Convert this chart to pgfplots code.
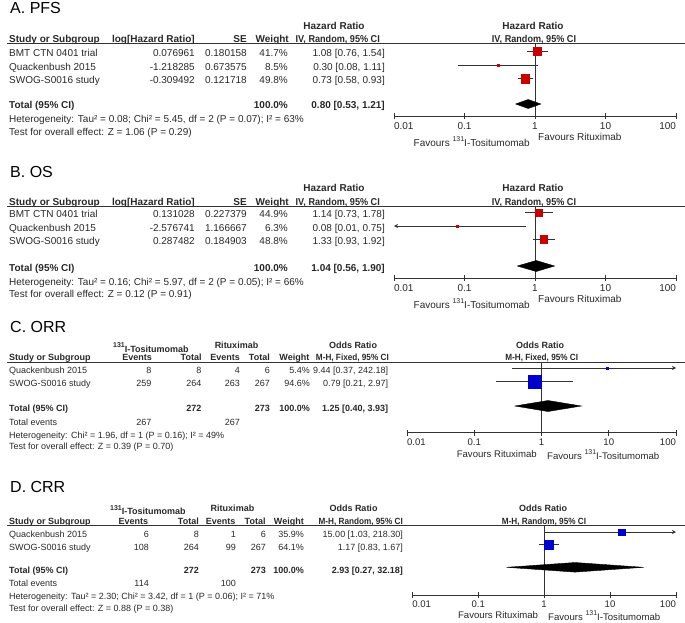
\documentclass[border=0pt]{standalone}
\usepackage{fontspec}
\setmainfont{Liberation Sans}
\usepackage{pgfplots}
\pgfplotsset{compat=1.18}
\usetikzlibrary{arrows.meta}
\definecolor{hrred}{RGB}{200,0,0}
\definecolor{orblue}{RGB}{0,0,204}
\definecolor{txt}{RGB}{40,40,40}
\definecolor{ln}{RGB}{50,50,50}
\newcommand\fs{\fontsize{10}{12}\selectfont}
\newcommand\fss{\fontsize{9}{11}\selectfont}
\newcommand\fsf{\fontsize{9.6}{11}\selectfont}
\newcommand\sups[1]{\raisebox{4.5pt}{\fontsize{7}{8}\selectfont #1}}
\newcommand\nar[1]{\scalebox{0.91}[1]{#1}}
\pgfplotsset{
 myforestaxis/.style={
   scale only axis, clip=false, xmin=0.01, xmax=100,
   axis y line=none, axis x line*=bottom,
   axis line style={ln, line width=0.8pt},
   xtick={0.01,0.1,1,10,100},
   xticklabels={{\makebox[0pt][l]{0.01}},0.1,1,10,{\makebox[0pt][r]{100}}},
   xminorticks=false,
   xtick align=center, major tick length=6pt,
   tick style={ln, line width=0.8pt},
   xticklabel style={font=\fs, text=txt, inner sep=0pt, anchor=base, yshift=-10.5pt},
 },
}
\tikzset{
 ciline/.style={ln, line width=0.8pt},
 ciright/.style={ln, line width=0.8pt, -{Stealth[length=4pt,width=4pt]}},
 cileft/.style={ln, line width=0.8pt, {Stealth[length=4pt,width=4pt]}-},
 diam/.style={fill=black, draw=black},
 refline/.style={ln, line width=0.8pt},
}
\begin{document}
\begin{tikzpicture}[
  L/.style={anchor=base west, inner sep=0pt, font=\fs, text=txt},
  R/.style={anchor=base east, inner sep=0pt, font=\fs, text=txt},
  C/.style={anchor=base, inner sep=0pt, font=\fs, text=txt},
  B/.style={font=\fs\bfseries},
  S/.style={font=\fss},
  SB/.style={font=\fss\bfseries},
  F/.style={font=\fsf},
  T/.style={anchor=base west, inner sep=0pt, font=\fontsize{16}{19}\selectfont, text=black},
  rule/.style={ln, line width=0.8pt}]
\useasboundingbox (0pt,0pt) rectangle (685pt,-622pt);

% ================= A. PFS =================
\node[T] at (10pt,-13.4pt) {A. PFS};
\node[C,B] at (334pt,-29.3pt) {Hazard Ratio};
\node[C,B] at (533pt,-29.3pt) {Hazard Ratio};
\node[L,B] at (9pt,-42.9pt) {Study or Subgroup};
\node[R,B] at (195pt,-42.9pt) {log[Hazard Ratio]};
\node[R,B] at (247pt,-42.9pt) {SE};
\node[R,B] at (289pt,-42.9pt) {Weight};
\node[R,B] at (380pt,-42.9pt) {\nar{IV, Random, 95\% CI}};
\node[C,B] at (534pt,-42.9pt) {\nar{IV, Random, 95\% CI}};
\draw[rule] (7pt,-43.7pt) -- (685pt,-43.7pt);
\node[L] at (9pt,-56.5pt) {BMT CTN 0401 trial};
\node[R] at (195pt,-56.5pt) {0.076961};
\node[R] at (247pt,-56.5pt) {0.180158};
\node[R] at (288pt,-56.5pt) {41.7\%};
\node[R] at (385pt,-56.5pt) {1.08 [0.76, 1.54]};
\node[L] at (9pt,-70pt) {Quackenbush 2015};
\node[R] at (195pt,-70pt) {-1.218285};
\node[R] at (247pt,-70pt) {0.673575};
\node[R] at (288pt,-70pt) {8.5\%};
\node[R] at (385pt,-70pt) {0.30 [0.08, 1.11]};
\node[L] at (9pt,-83.5pt) {SWOG-S0016 study};
\node[R] at (195pt,-83.5pt) {-0.309492};
\node[R] at (247pt,-83.5pt) {0.121718};
\node[R] at (288pt,-83.5pt) {49.8\%};
\node[R] at (385pt,-83.5pt) {0.73 [0.58, 0.93]};
\node[L,B] at (9pt,-108.6pt) {Total (95\% CI)};
\node[R,B] at (288pt,-108.6pt) {100.0\%};
\node[R,B] at (385pt,-108.6pt) {0.80 [0.53, 1.21]};
\node[L] at (9pt,-122.6pt) {Heterogeneity: Tau² = 0.08; Chi² = 5.45, df = 2 (P = 0.07); I² = 63\%};
\node[L] at (9pt,-135.3pt) {Test for overall effect: Z = 1.06 (P = 0.29)};
\node[R] at (530pt,-146pt) {Favours \sups{131}I-Tositumomab};
\node[L] at (538pt,-140.6pt) {Favours Rituximab};
\begin{semilogxaxis}[myforestaxis, width=282pt, height=72.3pt, at={(394pt,-116pt)}, anchor=south west, ymin=-116, ymax=-43.7]
\addplot[refline] coordinates {(1,-43.7) (1,-116)};
\addplot[ciline] coordinates {(0.76,-51.5) (1.54,-51.5)};
\addplot[only marks, mark=square*, mark size=4, color=hrred] coordinates {(1.08,-51.5)};
\addplot[ciline] coordinates {(0.08,-65) (1.11,-65)};
\addplot[only marks, mark=square*, mark size=1, color=hrred] coordinates {(0.30,-65)};
\addplot[ciline] coordinates {(0.58,-78.5) (0.93,-78.5)};
\addplot[only marks, mark=square*, mark size=4.3, color=hrred] coordinates {(0.73,-78.5)};
\addplot[diam] coordinates {(0.53,-104) (0.80,-99.5) (1.21,-104) (0.80,-108.5) (0.53,-104)};
\end{semilogxaxis}

% ================= B. OS =================
\node[T] at (10pt,-177.6pt) {B. OS};
\node[C,B] at (334pt,-191.8pt) {Hazard Ratio};
\node[C,B] at (533pt,-191.8pt) {Hazard Ratio};
\node[L,B] at (9pt,-205.4pt) {Study or Subgroup};
\node[R,B] at (195pt,-205.4pt) {log[Hazard Ratio]};
\node[R,B] at (247pt,-205.4pt) {SE};
\node[R,B] at (289pt,-205.4pt) {Weight};
\node[R,B] at (380pt,-205.4pt) {\nar{IV, Random, 95\% CI}};
\node[C,B] at (534pt,-205.4pt) {\nar{IV, Random, 95\% CI}};
\draw[rule] (7pt,-206.2pt) -- (685pt,-206.2pt);
\node[L] at (9pt,-217.7pt) {BMT CTN 0401 trial};
\node[R] at (195pt,-217.7pt) {0.131028};
\node[R] at (247pt,-217.7pt) {0.227379};
\node[R] at (288pt,-217.7pt) {44.9\%};
\node[R] at (385pt,-217.7pt) {1.14 [0.73, 1.78]};
\node[L] at (9pt,-231pt) {Quackenbush 2015};
\node[R] at (195pt,-231pt) {-2.576741};
\node[R] at (247pt,-231pt) {1.166667};
\node[R] at (288pt,-231pt) {6.3\%};
\node[R] at (385pt,-231pt) {0.08 [0.01, 0.75]};
\node[L] at (9pt,-244.5pt) {SWOG-S0016 study};
\node[R] at (195pt,-244.5pt) {0.287482};
\node[R] at (247pt,-244.5pt) {0.184903};
\node[R] at (288pt,-244.5pt) {48.8\%};
\node[R] at (385pt,-244.5pt) {1.33 [0.93, 1.92]};
\node[L,B] at (9pt,-271.9pt) {Total (95\% CI)};
\node[R,B] at (288pt,-271.9pt) {100.0\%};
\node[R,B] at (385pt,-271.9pt) {1.04 [0.56, 1.90]};
\node[L] at (9pt,-285.3pt) {Heterogeneity: Tau² = 0.16; Chi² = 5.97, df = 2 (P = 0.05); I² = 66\%};
\node[L] at (9pt,-297.6pt) {Test for overall effect: Z = 0.12 (P = 0.91)};
\node[R] at (530pt,-308.4pt) {Favours \sups{131}I-Tositumomab};
\node[L] at (538pt,-302.9pt) {Favours Rituximab};
\begin{semilogxaxis}[myforestaxis, width=282pt, height=72.1pt, at={(394pt,-278.3pt)}, anchor=south west, ymin=-278.3, ymax=-206.2]
\addplot[refline] coordinates {(1,-206.2) (1,-278.3)};
\addplot[ciline] coordinates {(0.73,-212.7) (1.78,-212.7)};
\addplot[only marks, mark=square*, mark size=3.6, color=hrred] coordinates {(1.14,-212.7)};
\addplot[cileft] coordinates {(0.01,-226) (0.75,-226)};
\addplot[only marks, mark=square*, mark size=1, color=hrred] coordinates {(0.08,-226)};
\addplot[ciline] coordinates {(0.93,-239.5) (1.92,-239.5)};
\addplot[only marks, mark=square*, mark size=3.9, color=hrred] coordinates {(1.33,-239.5)};
\addplot[diam] coordinates {(0.56,-266) (1.04,-260.5) (1.90,-266) (1.04,-271.5) (0.56,-266)};
\end{semilogxaxis}

% ================= C. ORR =================
\node[T] at (10pt,-332.8pt) {C. ORR};
\node[L,SB] at (113pt,-352.2pt) {\sups{131}I-Tositumomab};
\node[C,SB] at (236.5pt,-348.2pt) {Rituximab};
\node[C,SB] at (353pt,-348.2pt) {Odds Ratio};
\node[C,SB] at (540pt,-348.2pt) {Odds Ratio};
\node[L,SB] at (9pt,-360.9pt) {Study or Subgroup};
\node[R,SB] at (152pt,-360.9pt) {Events};
\node[R,SB] at (201.7pt,-360.9pt) {Total};
\node[R,SB] at (240pt,-360.9pt) {Events};
\node[R,SB] at (270pt,-360.9pt) {Total};
\node[R,SB] at (309.5pt,-360.9pt) {Weight};
\node[R,SB] at (389pt,-360.9pt) {\nar{M-H, Fixed, 95\% CI}};
\node[C,SB] at (541.7pt,-360.9pt) {\nar{M-H, Fixed, 95\% CI}};
\draw[rule] (7pt,-362pt) -- (685pt,-362pt);
\node[L,S] at (9pt,-373.2pt) {Quackenbush 2015};
\node[R,S] at (151.7pt,-373.2pt) {8};
\node[R,S] at (201.7pt,-373.2pt) {8};
\node[R,S] at (240pt,-373.2pt) {4};
\node[R,S] at (270pt,-373.2pt) {6};
\node[R,S] at (310pt,-373.2pt) {5.4\%};
\node[R,S] at (388.3pt,-373.2pt) {9.44 [0.37, 242.18]};
\node[L,S] at (9pt,-386.7pt) {SWOG-S0016 study};
\node[R,S] at (151.7pt,-386.7pt) {259};
\node[R,S] at (201.7pt,-386.7pt) {264};
\node[R,S] at (240pt,-386.7pt) {263};
\node[R,S] at (270pt,-386.7pt) {267};
\node[R,S] at (310pt,-386.7pt) {94.6\%};
\node[R,S] at (388.3pt,-386.7pt) {0.79 [0.21, 2.97]};
\node[L,SB] at (9pt,-411.5pt) {Total (95\% CI)};
\node[R,SB] at (201.7pt,-411.5pt) {272};
\node[R,SB] at (270pt,-411.5pt) {273};
\node[R,SB] at (310pt,-411.5pt) {100.0\%};
\node[R,SB] at (388.3pt,-411.5pt) {1.25 [0.40, 3.93]};
\node[L,S] at (9pt,-425.5pt) {Total events};
\node[R,S] at (151.7pt,-425.5pt) {267};
\node[R,S] at (240pt,-425.5pt) {267};
\node[L,S] at (9pt,-438.2pt) {Heterogeneity: Chi² = 1.96, df = 1 (P = 0.16); I² = 49\%};
\node[L,S] at (9pt,-449.9pt) {Test for overall effect: Z = 0.39 (P = 0.70)};
\node[R,F] at (537pt,-457.4pt) {Favours Rituximab};
\node[L,F] at (547pt,-459.4pt) {Favours \sups{131}I-Tositumomab};
\begin{semilogxaxis}[myforestaxis, xticklabel style={font=\fsf, yshift=0.5pt}, width=269pt, height=70.7pt, at={(407pt,-432.7pt)}, anchor=south west, ymin=-432.7, ymax=-362]
\addplot[refline] coordinates {(1,-362) (1,-432.7)};
\addplot[ciright] coordinates {(0.37,-368) (100,-368)};
\addplot[only marks, mark=square*, mark size=1, color=orblue] coordinates {(9.44,-368)};
\addplot[ciline] coordinates {(0.21,-381.5) (2.97,-381.5)};
\addplot[only marks, mark=square*, mark size=6.8, color=orblue] coordinates {(0.79,-381.5)};
\addplot[diam] coordinates {(0.40,-406) (1.25,-400.5) (3.93,-406) (1.25,-411.5) (0.40,-406)};
\end{semilogxaxis}

% ================= D. CRR =================
\node[T] at (10pt,-492.8pt) {D. CRR};
\node[L,SB] at (110pt,-514.9pt) {\sups{131}I-Tositumomab};
\node[C,SB] at (232.5pt,-511.5pt) {Rituximab};
\node[C,SB] at (353.5pt,-511.5pt) {Odds Ratio};
\node[C,SB] at (543pt,-511.5pt) {Odds Ratio};
\node[L,SB] at (9pt,-524.2pt) {Study or Subgroup};
\node[R,SB] at (148.3pt,-524.2pt) {Events};
\node[R,SB] at (199pt,-524.2pt) {Total};
\node[R,SB] at (235.7pt,-524.2pt) {Events};
\node[R,SB] at (265.7pt,-524.2pt) {Total};
\node[R,SB] at (304pt,-524.2pt) {Weight};
\node[R,SB] at (403pt,-524.2pt) {\nar{M-H, Random, 95\% CI}};
\node[C,SB] at (544pt,-524.2pt) {\nar{M-H, Random, 95\% CI}};
\draw[rule] (7pt,-525pt) -- (685pt,-525pt);
\node[L,S] at (9pt,-537.2pt) {Quackenbush 2015};
\node[R,S] at (149pt,-537.2pt) {6};
\node[R,S] at (199pt,-537.2pt) {8};
\node[R,S] at (236pt,-537.2pt) {1};
\node[R,S] at (266pt,-537.2pt) {6};
\node[R,S] at (304pt,-537.2pt) {35.9\%};
\node[R,S] at (403pt,-537.2pt) {15.00 [1.03, 218.30]};
\node[L,S] at (9pt,-550pt) {SWOG-S0016 study};
\node[R,S] at (149pt,-550pt) {108};
\node[R,S] at (199pt,-550pt) {264};
\node[R,S] at (236pt,-550pt) {99};
\node[R,S] at (266pt,-550pt) {267};
\node[R,S] at (304pt,-550pt) {64.1\%};
\node[R,S] at (403pt,-550pt) {1.17 [0.83, 1.67]};
\node[L,SB] at (9pt,-573.2pt) {Total (95\% CI)};
\node[R,SB] at (199pt,-573.2pt) {272};
\node[R,SB] at (266pt,-573.2pt) {273};
\node[R,SB] at (304pt,-573.2pt) {100.0\%};
\node[R,SB] at (403pt,-573.2pt) {2.93 [0.27, 32.18]};
\node[L,S] at (9pt,-586.5pt) {Total events};
\node[R,S] at (149pt,-586.5pt) {114};
\node[R,S] at (236pt,-586.5pt) {100};
\node[L,S] at (9pt,-599.9pt) {Heterogeneity: Tau² = 2.30; Chi² = 3.42, df = 1 (P = 0.06); I² = 71\%};
\node[L,S] at (9pt,-611.5pt) {Test for overall effect: Z = 0.88 (P = 0.38)};
\node[R,F] at (538.3pt,-618.4pt) {Favours Rituximab};
\node[L,F] at (548pt,-620pt) {Favours \sups{131}I-Tositumomab};
\begin{semilogxaxis}[myforestaxis, xticklabel style={font=\fsf, yshift=1.5pt}, width=263.7pt, height=70pt, at={(412.3pt,-595pt)}, anchor=south west, ymin=-595, ymax=-525]
\addplot[refline] coordinates {(1,-525) (1,-595)};
\addplot[ciright] coordinates {(1.03,-532) (100,-532)};
\addplot[only marks, mark=square*, mark size=3.3, color=orblue] coordinates {(15.00,-532)};
\addplot[ciline] coordinates {(0.83,-544.5) (1.67,-544.5)};
\addplot[only marks, mark=square*, mark size=4.7, color=orblue] coordinates {(1.17,-544.5)};
\addplot[diam] coordinates {(0.27,-567.3) (2.93,-562.5) (32.18,-567.3) (2.93,-572.1) (0.27,-567.3)};
\end{semilogxaxis}
\end{tikzpicture}
\end{document}
